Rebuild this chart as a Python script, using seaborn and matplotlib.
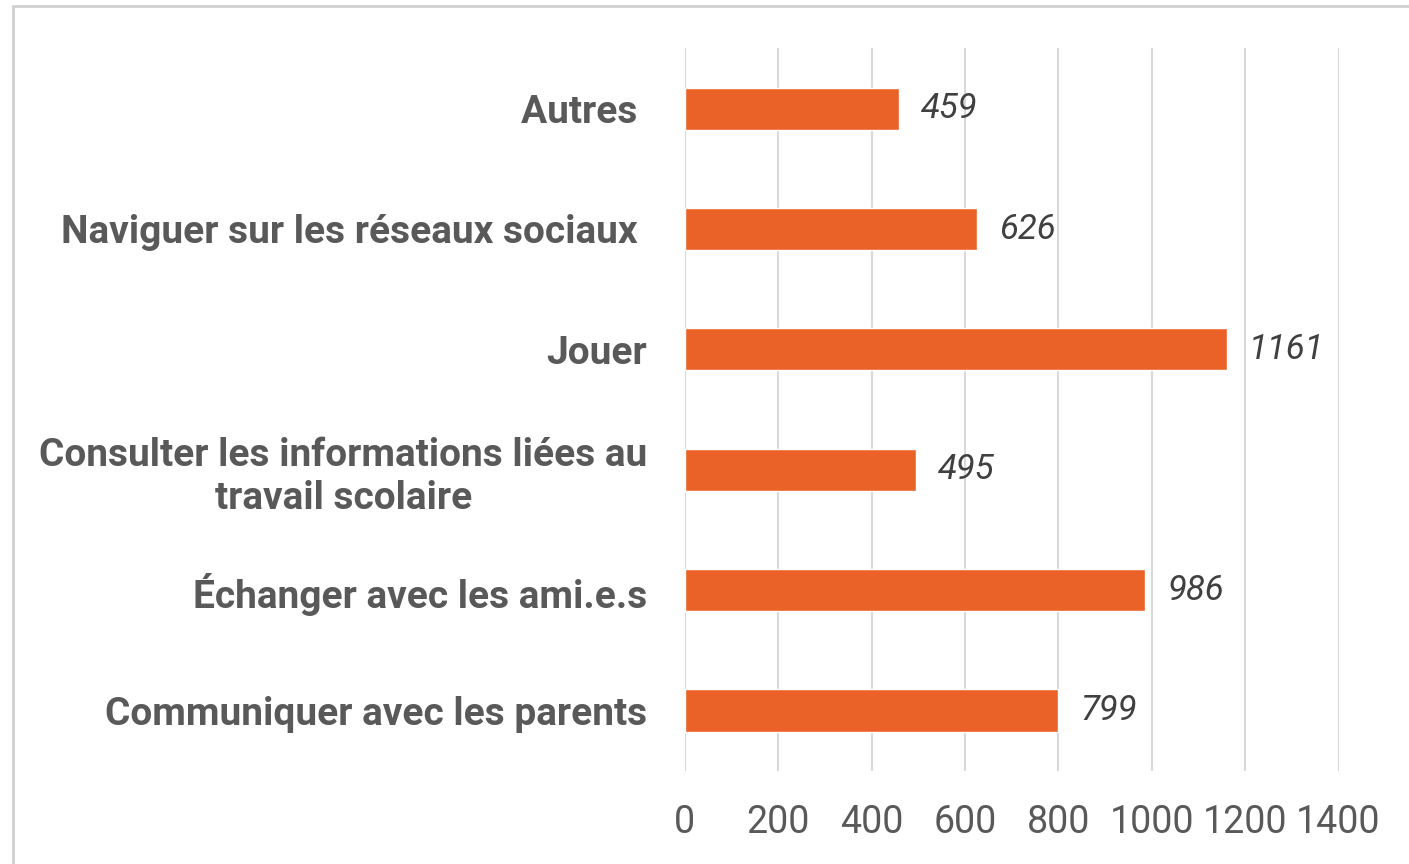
import pandas as pd
import matplotlib.pyplot as plt
import seaborn as sns
from matplotlib.patches import Rectangle

# --- DONNÉES ---
categories = [
    'Autres ',
    'Naviguer sur les réseaux sociaux ',
    'Jouer',
    'Consulter les informations liées au\ntravail scolaire',
    'Échanger avec les ami.e.s',
    'Communiquer avec les parents',
]
valeurs = [459, 626, 1161, 495, 986, 799]
ticks_x = [0, 200, 400, 600, 800, 1000, 1200, 1400]

ORANGE = '#EA6227'
GRIS_TEXTE = '#595959'

df = pd.DataFrame({'categorie': categories, 'valeur': valeurs})

sns.set_style('white')
plt.rcParams['font.family'] = ['Roboto', 'DejaVu Sans']

fig = plt.figure(figsize=(14.09, 8.64), dpi=100)
ax = fig.add_axes([0.486, 0.108, 0.464, 0.836])

sns.barplot(data=df, y='categorie', x='valeur', orient='h', color=ORANGE,
            width=0.35, saturation=1, ax=ax)

ax.set_xlim(0, 1400)
ax.set_ylim(5.5, -0.5)
ax.set_xticks(ticks_x)
ax.set_xticklabels([str(t) for t in ticks_x], fontsize=27, color=GRIS_TEXTE)
ax.tick_params(axis='x', length=0, pad=24)
ax.tick_params(axis='y', length=0, pad=27)
for lbl in ax.get_yticklabels():
    lbl.set_fontsize(28)
    lbl.set_fontweight('bold')
    lbl.set_color(GRIS_TEXTE)
    lbl.set_multialignment('center')

ax.grid(axis='x', color='#D9D9D9', linewidth=1.5)
ax.set_axisbelow(True)
for s in ax.spines.values():
    s.set_visible(False)
ax.set_xlabel('')
ax.set_ylabel('')

# Étiquettes de valeurs
ax.bar_label(ax.containers[0], labels=[str(v) for v in valeurs], padding=16,
             fontsize=25, fontstyle='italic', color='#404040')

# Cadre gris autour du graphique
fig.patches.append(Rectangle((0.009, -0.01), 1.02, 1.003, transform=fig.transFigure,
                             fill=False, edgecolor='#D0D0D0', linewidth=2))

fig.savefig('out.png', dpi=100)
